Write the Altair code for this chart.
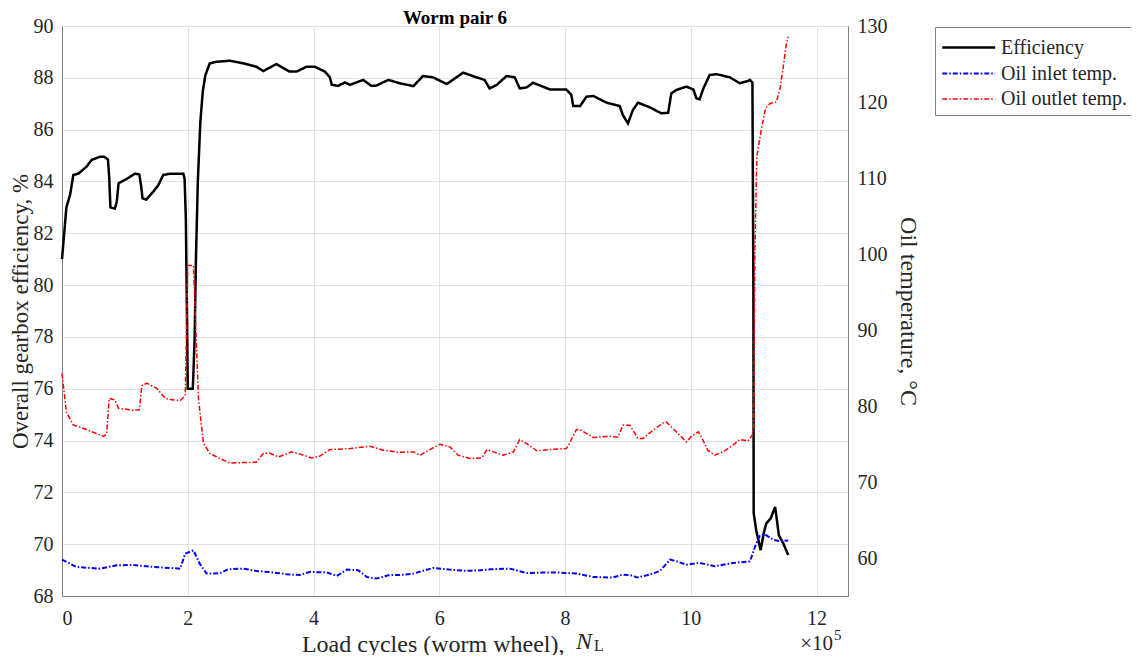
import altair as alt
import pandas as pd

# ---------------- data (x in units of 1e5 load cycles) ----------------
eff_x = [0.00, 0.07, 0.13, 0.18, 0.26, 0.39, 0.47, 0.60, 0.67, 0.73, 0.75, 0.77, 0.84, 0.87,
         0.90, 1.03, 1.16, 1.23, 1.26, 1.28, 1.34, 1.45, 1.53, 1.61, 1.72, 1.88, 1.93, 1.95,
         1.97, 2.00, 2.08, 2.09, 2.11, 2.13, 2.16, 2.20, 2.24, 2.28, 2.35, 2.46, 2.67, 2.88,
         3.09, 3.20, 3.41, 3.62, 3.73, 3.89, 4.02, 4.18, 4.26, 4.29, 4.39, 4.50, 4.58, 4.79,
         4.92, 4.99, 5.19, 5.37, 5.59, 5.74, 5.90, 6.12, 6.38, 6.59, 6.72, 6.80, 6.91, 7.07,
         7.20, 7.28, 7.39, 7.49, 7.76, 8.02, 8.10, 8.13, 8.24, 8.34, 8.45, 8.66, 8.87, 8.92,
         9.00, 9.08, 9.16, 9.35, 9.53, 9.64, 9.69, 9.77, 9.93, 10.04, 10.09, 10.14, 10.20,
         10.30, 10.41, 10.62, 10.78, 10.91, 10.94, 10.98, 10.995, 11.00, 11.04, 11.11, 11.16,
         11.20, 11.27, 11.34, 11.36, 11.40, 11.47, 11.55]
eff_y = [81.0, 83.0, 83.5, 84.25, 84.3, 84.57, 84.83, 84.95, 84.95, 84.85, 84.2, 83.0, 82.95, 83.2,
         83.93, 84.1, 84.3, 84.27, 83.8, 83.35, 83.3, 83.6, 83.85, 84.25, 84.3, 84.3, 84.3, 84.1,
         82.5, 76.0, 76.0, 76.6, 78.0, 81.0, 84.0, 86.3, 87.5, 88.1, 88.56, 88.62, 88.66, 88.56,
         88.43, 88.26, 88.53, 88.24, 88.24, 88.43, 88.43, 88.24, 88.02, 87.73, 87.69, 87.82, 87.73, 87.92,
         87.69, 87.69, 87.92, 87.79, 87.68, 88.07, 88.02, 87.76, 88.2, 88.02, 87.92, 87.59, 87.72, 88.07,
         88.02, 87.59, 87.63, 87.81, 87.55, 87.55, 87.34, 86.91, 86.91, 87.27, 87.3, 87.04, 86.91, 86.56,
         86.24, 86.76, 87.04, 86.86, 86.63, 86.65, 87.4, 87.53, 87.66, 87.55, 87.21, 87.17, 87.59,
         88.11, 88.14, 88.02, 87.79, 87.88, 87.92, 87.82, 80.0, 71.2, 70.54, 69.77, 70.42,
         70.8, 70.99, 71.44, 71.1, 70.35, 70.03, 69.58]

out_x = [0.00, 0.07, 0.18, 0.39, 0.66, 0.71, 0.75, 0.84, 0.90, 1.13, 1.23, 1.27, 1.35, 1.51, 1.64,
         1.77, 1.88, 1.96, 2.00, 2.09, 2.13, 2.17, 2.25, 2.35, 2.51, 2.67, 2.88, 3.09, 3.20, 3.30,
         3.44, 3.65, 3.78, 3.97, 4.10, 4.26, 4.58, 4.90, 5.11, 5.37, 5.59, 5.69, 5.85, 6.01, 6.17,
         6.30, 6.49, 6.68, 6.76, 6.86, 7.02, 7.18, 7.28, 7.39, 7.55, 7.76, 8.02, 8.07, 8.18, 8.26,
         8.45, 8.71, 8.84, 8.92, 9.03, 9.16, 9.24, 9.40, 9.56, 9.61, 9.77, 9.93, 10.01, 10.12,
         10.17, 10.27, 10.38, 10.54, 10.67, 10.78, 10.91, 10.98, 11.00, 11.01, 11.02, 11.05,
         11.12, 11.19, 11.26, 11.36, 11.42, 11.47, 11.52, 11.55]
out_y = [84.3, 79.2, 77.5, 76.9, 76.0, 76.3, 81.0, 80.8, 79.7, 79.45, 79.5, 82.7, 83.0, 82.3, 81.0,
         80.8, 80.7, 81.4, 98.5, 98.5, 90.0, 81.0, 75.1, 73.75, 73.1, 72.5, 72.55, 72.6, 73.75, 73.8,
         73.3, 73.96, 73.7, 73.17, 73.4, 74.27, 74.4, 74.7, 74.18, 73.9, 73.96, 73.52, 74.27, 74.97, 74.6,
         73.52, 73.09, 73.17, 74.27, 73.96, 73.52, 73.96, 75.59, 75.06, 74.1, 74.27, 74.4, 75.06, 76.9, 76.8,
         75.85, 76.02, 75.9, 77.47, 77.47, 75.72, 75.72, 76.82, 77.78, 77.9, 76.6, 75.28, 76.02, 76.6,
         75.9, 74.18, 73.52, 74.1, 74.84, 75.59, 75.4, 76.2, 77.3, 90.4, 100.5, 112.8,
         116.3, 119.2, 119.8, 120.0, 121.8, 124.6, 127.7, 128.6]

in_x = [0.00, 0.23, 0.60, 0.87, 1.13, 1.45, 1.88, 1.96, 2.09, 2.19, 2.30, 2.51, 2.64, 2.88, 3.09,
        3.36, 3.57, 3.78, 3.94, 4.21, 4.37, 4.53, 4.71, 4.85, 5.00, 5.21, 5.37, 5.59, 5.90, 6.17,
        6.43, 6.65, 6.81, 7.12, 7.39, 7.65, 7.92, 8.18, 8.45, 8.76, 8.92, 9.08, 9.14, 9.35, 9.51,
        9.67, 9.77, 9.93, 10.14, 10.38, 10.67, 10.94, 11.02, 11.10, 11.18, 11.31, 11.42, 11.55]
in_y = [59.8, 58.82, 58.6, 59.04, 59.08, 58.82, 58.6, 60.58, 61.0, 59.26, 57.95, 58.0, 58.51, 58.6, 58.3,
        58.1, 57.86, 57.77, 58.16, 58.1, 57.64, 58.47, 58.4, 57.5, 57.29, 57.77, 57.75, 57.95, 58.69, 58.47,
        58.3, 58.38, 58.51, 58.6, 58.03, 58.08, 58.08, 57.95, 57.51, 57.43, 57.82, 57.69, 57.43, 57.82, 58.3,
        59.79, 59.57, 59.13, 59.35, 58.91, 59.35, 59.55, 61.45, 63.0, 63.1, 62.4, 62.2, 62.3]

series_names = ["Efficiency", "Oil inlet temp.", "Oil outlet temp."]
series_colors = ["#000000", "#0000ff", "#ff0000"]
series_dashes = [[1, 0], [5, 2, 1.5, 2], [5, 2, 1.5, 2]]
series_widths = [2.5, 1.5, 1.5]

x_ticks = [0, 2, 4, 6, 8, 10, 12]
eff_ticks = [68, 70, 72, 74, 76, 78, 80, 82, 84, 86, 88, 90]
temp_ticks = [60, 70, 80, 90, 100, 110, 120, 130]

df_eff = pd.DataFrame({"x": eff_x, "v": eff_y, "series": series_names[0]})
df_temp = pd.concat([
    pd.DataFrame({"x": in_x, "v": in_y, "series": series_names[1]}),
    pd.DataFrame({"x": out_x, "v": out_y, "series": series_names[2]}),
])

FONT = "Liberation Serif"
TXT = "#262626"

color_enc = alt.Color("series:N", scale=alt.Scale(domain=series_names, range=series_colors), title=None)
dash_enc = alt.StrokeDash("series:N", scale=alt.Scale(domain=series_names, range=series_dashes), title=None)
width_enc = alt.StrokeWidth("series:N", scale=alt.Scale(domain=series_names, range=series_widths), title=None)

x_enc = alt.X("x:Q", scale=alt.Scale(domain=[0, 12.5], nice=False),
              axis=alt.Axis(values=x_ticks, title="Load cycles (worm wheel),", titleX=502,
                            titleY=55, titleAlign="right", titleBaseline="alphabetic",
                            labelPadding=12))

eff_line = alt.Chart(df_eff).mark_line().encode(
    x=x_enc,
    y=alt.Y("v:Q", scale=alt.Scale(domain=[68, 90], nice=False),
            axis=alt.Axis(values=eff_ticks, title="Overall gearbox efficiency, %", orient="left",
                          grid=True, labelPadding=9, titlePadding=1, titleFontSize=23)),
    color=color_enc,
    strokeDash=dash_enc,
    strokeWidth=width_enc,
)

temp_line = alt.Chart(df_temp).mark_line().encode(
    x=x_enc,
    y=alt.Y("v:Q", scale=alt.Scale(domain=[55, 130], nice=False),
            axis=alt.Axis(values=temp_ticks, title="Oil temperature, °C", orient="right",
                          grid=False, labelPadding=9, titlePadding=8)),
    color=color_enc,
    strokeDash=dash_enc,
    strokeWidth=width_enc,
)

ann = pd.DataFrame({"a": [0]})
title_text = alt.Chart(ann).mark_text(text="Worm pair 6", font=FONT, fontSize=19, fontWeight="bold",
                                      align="center", baseline="alphabetic", color="#000000").encode(
    x=alt.value(393), y=alt.value(-2))
n_text = alt.Chart(ann).mark_text(text="N", font=FONT, fontSize=24, fontStyle="italic",
                                  align="left", baseline="alphabetic", color=TXT).encode(
    x=alt.value(514), y=alt.value(623))
l_text = alt.Chart(ann).mark_text(text="L", font=FONT, fontSize=16,
                                  align="left", baseline="alphabetic", color=TXT).encode(
    x=alt.value(532), y=alt.value(625))
x10_text = alt.Chart(ann).mark_text(text="×10", font=FONT, fontSize=21,
                                    align="right", baseline="alphabetic", color=TXT).encode(
    x=alt.value(771), y=alt.value(624))
five_text = alt.Chart(ann).mark_text(text="5", font=FONT, fontSize=15,
                                     align="left", baseline="alphabetic", color=TXT).encode(
    x=alt.value(772), y=alt.value(614))

chart = alt.layer(eff_line, temp_line, title_text, n_text, l_text, x10_text, five_text).resolve_scale(
    y="independent"
).properties(
    width=786, height=570,
    autosize=alt.AutoSizeParams(type="none"),
    padding={"left": 54, "top": 18, "right": 283, "bottom": 59},
).configure_view(
    stroke="#808080", strokeWidth=1
).configure_axis(
    labelFont=FONT, labelFontSize=20, labelColor=TXT,
    titleFont=FONT, titleFontSize=24, titleFontWeight="normal", titleColor=TXT,
    domainColor="#808080", domainWidth=1, ticks=False,
    gridColor="#e3e3e3", gridWidth=1,
).configure_legend(
    orient="none", legendX=873, legendY=1,
    strokeColor="#808080", fillColor="#ffffff", padding=6,
    symbolType="M-1,0L3,0", symbolSize=700,
    labelFont=FONT, labelFontSize=20, labelColor=TXT, labelOffset=31,
    rowPadding=1, cornerRadius=0,
)

chart.save("out.html", embed_options={"renderer": "svg", "actions": False})
